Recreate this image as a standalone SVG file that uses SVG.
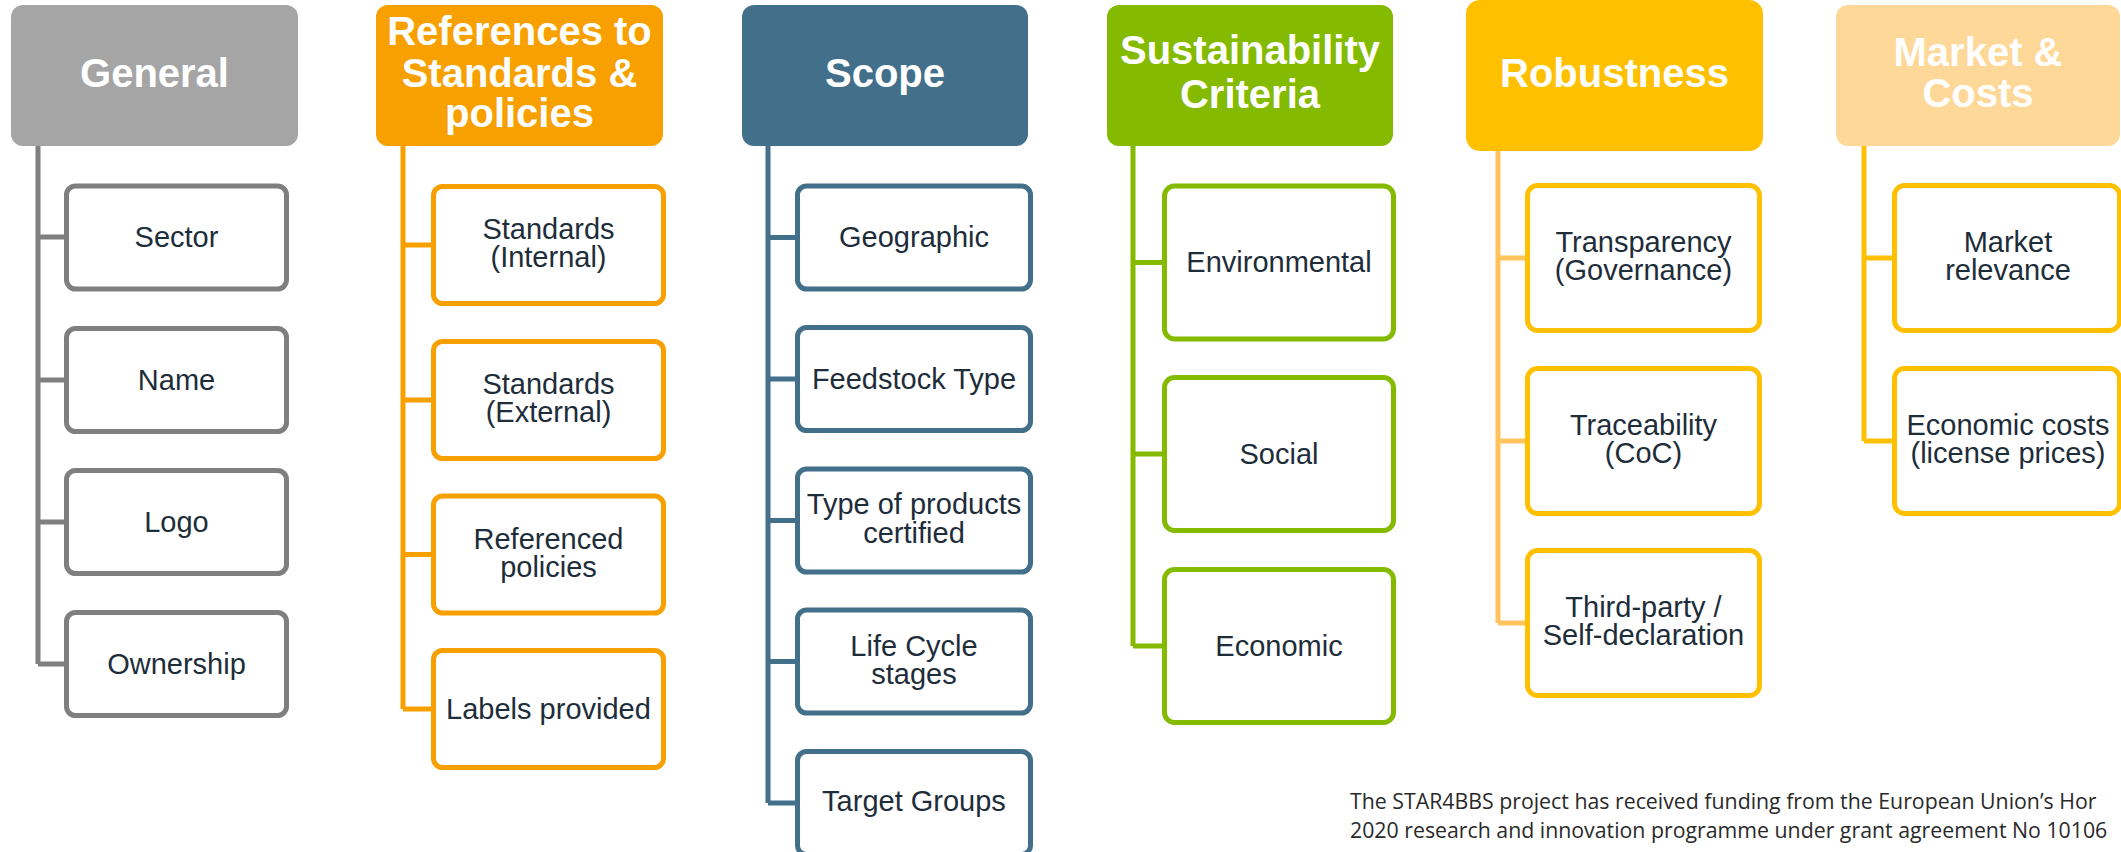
<svg xmlns="http://www.w3.org/2000/svg" width="2121" height="852" viewBox="0 0 2121 852">
<style>
.hdr{font-family:"Liberation Sans",Arial,sans-serif;font-weight:bold;font-size:40px;fill:#ffffff;text-anchor:middle}
.lbl{font-family:"Liberation Sans",Arial,sans-serif;font-size:29px;fill:#1e2d3a;text-anchor:middle}
.box{fill:#ffffff;stroke-width:5}
.ln{fill:none;stroke-width:5;stroke-linejoin:miter}
.foot{font-family:"Open Sans","Liberation Sans",sans-serif;font-size:21.3px;fill:#2a2a2a}
.g .box{stroke:#7f7f7f}
.o .box{stroke:#f7a000}
.s .box{stroke:#426f8a}
.v .box{stroke:#84ba00}
.y .box{stroke:#ffc000}
</style>
<rect width="2121" height="852" fill="#ffffff"/>

<g id="connectors">
  <path class="ln" stroke="#7f7f7f" d="M38 146 V664 M38 237 H66 M38 380 H66 M38 522 H66 M38 664 H66"/>
  <path class="ln" stroke="#f7a000" d="M403 146 V709 M403 245 H433 M403 400 H433 M403 554.5 H433 M403 709 H433"/>
  <path class="ln" stroke="#426f8a" d="M768 146 V803 M768 237.5 H797 M768 379 H797 M768 520.5 H797 M768 661.5 H797 M768 803 H797"/>
  <path class="ln" stroke="#84ba00" d="M1133 146 V646 M1133 262.5 H1164 M1133 454 H1164 M1133 646 H1164"/>
  <path class="ln" stroke="#ffc45c" d="M1498 151 V623 M1498 258 H1527 M1498 441 H1527 M1498 623 H1527"/>
  <path class="ln" stroke="#ffc000" d="M1864 146 V441 M1864 258 H1894 M1864 441 H1894"/>
</g>

<!-- General -->
<g id="general" class="g">
  <rect x="11" y="5" width="287" height="141" rx="12" fill="#a5a5a5"/>
  <text class="hdr" x="154.5" y="87">General</text>
</g>
<g id="sector" class="g"><rect class="box" x="66.5" y="186" width="220" height="103" rx="9"/><text class="lbl" x="176.5" y="247">Sector</text></g>
<g id="name" class="g"><rect class="box" x="66.5" y="328.5" width="220" height="103" rx="9"/><text class="lbl" x="176.5" y="389.5">Name</text></g>
<g id="logo" class="g"><rect class="box" x="66.5" y="470.5" width="220" height="103" rx="9"/><text class="lbl" x="176.5" y="531.5">Logo</text></g>
<g id="ownership" class="g"><rect class="box" x="66.5" y="612.5" width="220" height="103" rx="9"/><text class="lbl" x="176.5" y="673.5">Ownership</text></g>

<!-- References -->
<g id="references" class="o">
  <rect x="376" y="5" width="287" height="141" rx="12" fill="#f7a000"/>
  <text class="hdr" x="519.5" y="45">References to</text>
  <text class="hdr" x="519.5" y="87">Standards &amp;</text>
  <text class="hdr" x="519.5" y="127">policies</text>
</g>
<g id="std-internal" class="o"><rect class="box" x="433.5" y="186.5" width="230" height="117" rx="9"/><text class="lbl" x="548.5" y="239">Standards</text><text class="lbl" x="548.5" y="267">(Internal)</text></g>
<g id="std-external" class="o"><rect class="box" x="433.5" y="341.5" width="230" height="117" rx="9"/><text class="lbl" x="548.5" y="394">Standards</text><text class="lbl" x="548.5" y="422">(External)</text></g>
<g id="ref-policies" class="o"><rect class="box" x="433.5" y="496" width="230" height="117" rx="9"/><text class="lbl" x="548.5" y="548.5">Referenced</text><text class="lbl" x="548.5" y="576.5">policies</text></g>
<g id="labels" class="o"><rect class="box" x="433.5" y="650.5" width="230" height="117" rx="9"/><text class="lbl" x="548.5" y="719">Labels provided</text></g>

<!-- Scope -->
<g id="scope" class="s">
  <rect x="742" y="5" width="286" height="141" rx="12" fill="#426f8a"/>
  <text class="hdr" x="885" y="87">Scope</text>
</g>
<g id="geographic" class="s"><rect class="box" x="797.5" y="186" width="233" height="103" rx="9"/><text class="lbl" x="914" y="247">Geographic</text></g>
<g id="feedstock" class="s"><rect class="box" x="797.5" y="327.5" width="233" height="103" rx="9"/><text class="lbl" x="914" y="388.5">Feedstock Type</text></g>
<g id="products" class="s"><rect class="box" x="797.5" y="469" width="233" height="103" rx="9"/><text class="lbl" x="914" y="514">Type of products</text><text class="lbl" x="914" y="543">certified</text></g>
<g id="lifecycle" class="s"><rect class="box" x="797.5" y="610" width="233" height="103" rx="9"/><text class="lbl" x="914" y="655.5">Life Cycle</text><text class="lbl" x="914" y="683.5">stages</text></g>
<g id="target" class="s"><rect class="box" x="797.5" y="751.5" width="233" height="103" rx="9"/><text class="lbl" x="914" y="811">Target Groups</text></g>

<!-- Sustainability -->
<g id="sustainability" class="v">
  <rect x="1107" y="5" width="286" height="141" rx="12" fill="#84ba00"/>
  <text class="hdr" x="1250" y="64">Sustainability</text>
  <text class="hdr" x="1250" y="108">Criteria</text>
</g>
<g id="environmental" class="v"><rect class="box" x="1164.5" y="186" width="229" height="153" rx="10"/><text class="lbl" x="1279" y="272">Environmental</text></g>
<g id="social" class="v"><rect class="box" x="1164.5" y="377.5" width="229" height="153" rx="10"/><text class="lbl" x="1279" y="463.5">Social</text></g>
<g id="economic" class="v"><rect class="box" x="1164.5" y="569.5" width="229" height="153" rx="10"/><text class="lbl" x="1279" y="655.5">Economic</text></g>

<!-- Robustness -->
<g id="robustness" class="y">
  <rect x="1466" y="0" width="297" height="151" rx="14" fill="#ffc000"/>
  <text class="hdr" x="1614.5" y="87">Robustness</text>
</g>
<g id="transparency" class="y"><rect class="box" x="1527.5" y="185.5" width="232" height="145" rx="10"/><text class="lbl" x="1643.5" y="252">Transparency</text><text class="lbl" x="1643.5" y="280">(Governance)</text></g>
<g id="traceability" class="y"><rect class="box" x="1527.5" y="368.5" width="232" height="145" rx="10"/><text class="lbl" x="1643.5" y="435">Traceability</text><text class="lbl" x="1643.5" y="463">(CoC)</text></g>
<g id="thirdparty" class="y"><rect class="box" x="1527.5" y="550.5" width="232" height="145" rx="10"/><text class="lbl" x="1643.5" y="617">Third-party /</text><text class="lbl" x="1643.5" y="645">Self-declaration</text></g>

<!-- Market & Costs -->
<g id="market" class="y">
  <rect x="1836" y="5" width="284" height="141" rx="12" fill="#fed899"/>
  <text class="hdr" x="1978" y="66">Market &amp;</text>
  <text class="hdr" x="1978" y="107">Costs</text>
</g>
<g id="relevance" class="y"><rect class="box" x="1894.5" y="185.5" width="225" height="145" rx="10"/><text class="lbl" x="2008" y="252">Market</text><text class="lbl" x="2008" y="280">relevance</text></g>
<g id="costs" class="y"><rect class="box" x="1894.5" y="368.5" width="225" height="145" rx="10"/><text class="lbl" x="2008" y="435">Economic costs</text><text class="lbl" x="2008" y="463">(license prices)</text></g>

<g id="footer">
  <text class="foot" x="1350" y="809">The STAR4BBS project has received funding from the European Union’s Hor</text>
  <text class="foot" x="1350" y="838">2020 research and innovation programme under grant agreement No 10106</text>
</g>
</svg>
